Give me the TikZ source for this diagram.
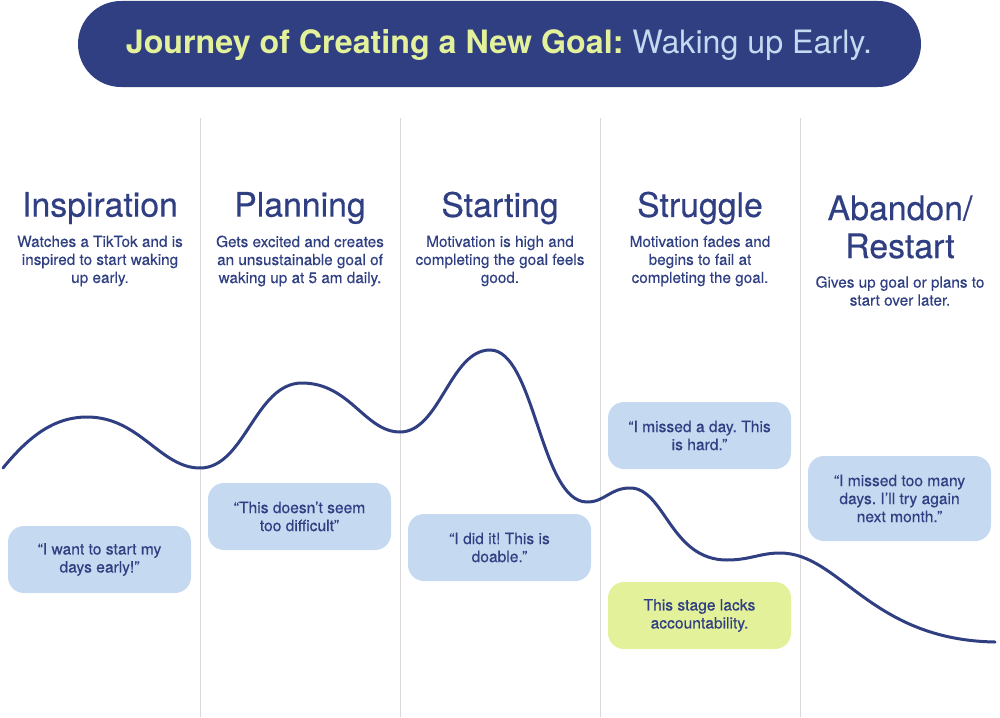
\documentclass[tikz,border=0pt]{standalone}
\usepackage{fontspec}
\setmainfont{TeX Gyre Heros}
\newfontfamily\medfont[FakeBold=0.35]{TeX Gyre Heros}
\definecolor{navy}{HTML}{2F3F82}
\definecolor{lime}{HTML}{E3F19A}
\definecolor{sky}{HTML}{C5D9F1}
\definecolor{rule}{HTML}{D9D9D9}
\begin{document}
\frenchspacing
\begin{tikzpicture}[x=1pt,y=-1pt,
  heading/.style={text=navy,font=\medfont\fontsize{33.8}{38}\selectfont,align=center,inner sep=0pt},
  desc/.style={text=navy,font=\medfont\fontsize{15.3}{18}\selectfont,align=center,inner sep=0pt},
  bubble/.style={fill=sky,rounded corners=16pt,minimum width=183pt,minimum height=67pt,text=navy,font=\medfont\fontsize{15.6}{18}\selectfont,align=center,inner sep=0pt},
  divider/.style={draw=rule,line width=1pt},
  journey/.style={draw=navy,line width=3pt,line cap=round}]
\useasboundingbox (0,0) rectangle (1000,717);
% title
\node[fill=navy,rounded corners=43pt,minimum width=843pt,minimum height=86pt,inner sep=0pt] (title) at (499.5,44) {};
\node[font=\fontsize{32.2}{36}\selectfont,inner sep=0pt] (titletext) at (499,45) {\textcolor{lime}{\bfseries Journey of Creating a New Goal:} \textcolor{sky}{Waking up Early.}};
% dividers
\foreach \x in {200,400,600,800} \draw[divider] (\x,118) -- (\x,717);
% headings
\node[heading] (h1) at (100,208) {Inspiration};
\node[heading] (h2) at (300,208) {Planning};
\node[heading] (h3) at (500,208) {Starting};
\node[heading] (h4) at (700,208) {Struggle};
\node[heading] (h5) at (900,227) {Abandon/\\Restart};
% descriptions
\node[desc] (d1) at (100,261) {Watches a TikTok and is\\inspired to start waking\\up early.};
\node[desc] (d2) at (300,261) {Gets excited and creates\\an unsustainable goal of\\waking up at 5 am daily.};
\node[desc] (d3) at (500,261) {Motivation is high and\\completing the goal feels\\good.};
\node[desc] (d4) at (700,261) {Motivation fades and\\begins to fail at\\completing the goal.};
\node[desc] (d5) at (900,291) {Gives up goal or plans to\\start over later.};
% curve
\draw[journey] (3,468) .. controls (30,435) and (55,417) .. (87,417)
  .. controls (140,417) and (160,468) .. (200,468)
  .. controls (245,468) and (255,383) .. (302,383)
  .. controls (350,383) and (365,432) .. (400,432)
  .. controls (440,432) and (450,350) .. (490,350)
  .. controls (535,350) and (540,502) .. (587,502)
  .. controls (605,502) and (610,488) .. (630,488)
  .. controls (665,488) and (670,560) .. (727,560)
  .. controls (750,560) and (760,553) .. (780,553)
  .. controls (840,553) and (870,640) .. (995,642);
% bubbles
\node[bubble] (b1) at (99.5,559.5) {“I want to start my\\days early!”};
\node[bubble] (b2) at (299.5,516.5) {“This doesn’t seem\\too difficult”};
\node[bubble] (b3) at (499.5,547.5) {“I did it! This is\\doable.”};
\node[bubble] (b4) at (699.5,435.5) {“I missed a day. This\\is hard.”};
\node[bubble,minimum height=85pt] (b5) at (899.5,498.5) {“I missed too many\\days. I’ll try again\\next month.”};
\node[bubble,fill=lime] (b6) at (699.5,615.5) {This stage lacks\\accountability.};
\end{tikzpicture}
\end{document}
